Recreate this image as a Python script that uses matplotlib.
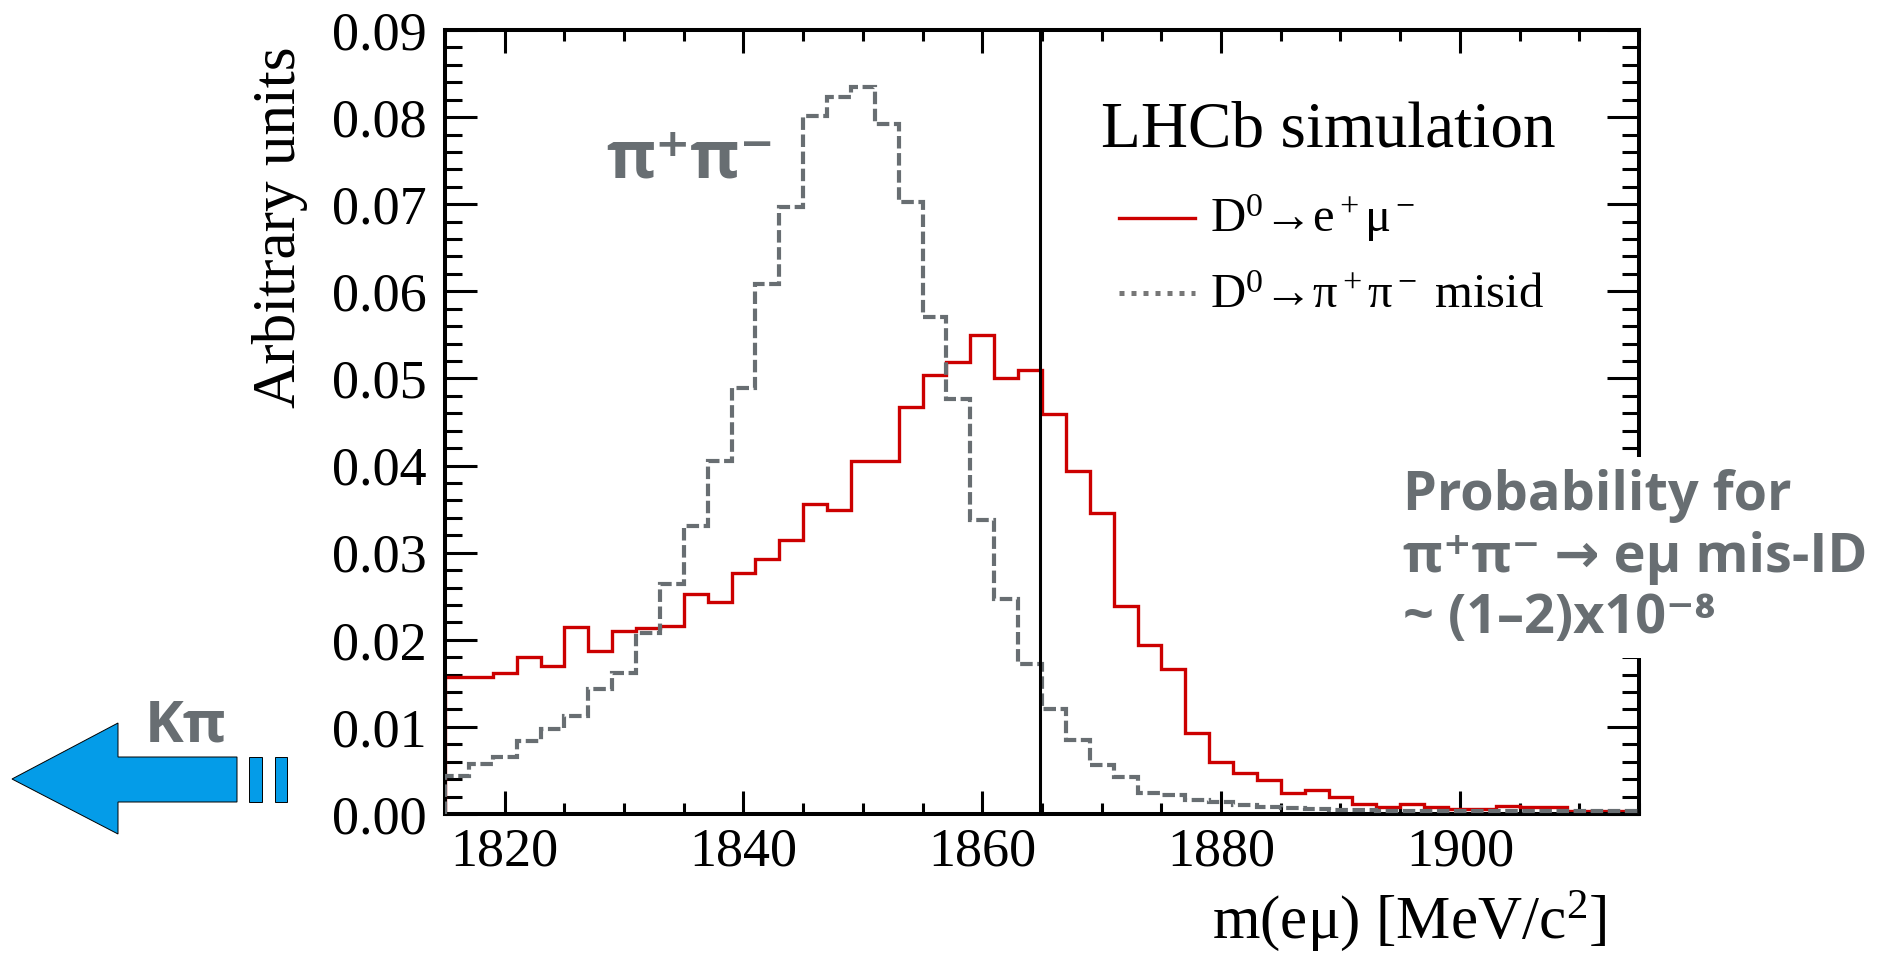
import numpy as np
import matplotlib
matplotlib.use("Agg")
import matplotlib.pyplot as plt
from matplotlib.patches import Polygon, Rectangle
from matplotlib.ticker import MultipleLocator, FormatStrFormatter

# --- figure geometry (pixels) ---
W, H, DPI = 1901, 956, 100

# --- histogram contents, 2 MeV bins from 1815 to 1915 MeV ---
M_LOW, M_HIGH, BIN_W = 1815, 1915, 2
edges = np.arange(M_LOW, M_HIGH + BIN_W, BIN_W)

# D0 -> e+ mu- signal shape
emu = [0.0157, 0.0157, 0.0162, 0.0180, 0.0170, 0.0215, 0.0187, 0.0210, 0.0214, 0.0216,
       0.0252, 0.0243, 0.0277, 0.0293, 0.0315, 0.0356, 0.0349, 0.0405, 0.0405, 0.0467,
       0.0504, 0.0519, 0.0550, 0.0500, 0.0510, 0.0459, 0.0394, 0.0346, 0.0239, 0.0194,
       0.0166, 0.0093, 0.0060, 0.0047, 0.0039, 0.0024, 0.0028, 0.0019, 0.0012, 0.0008,
       0.0011, 0.0008, 0.0006, 0.0006, 0.0009, 0.0008, 0.0008, 0.0004, 0.0003, 0.0003]

# D0 -> pi+ pi- misidentified as e mu
pipi = [0.0044, 0.0057, 0.0066, 0.0084, 0.0098, 0.0112, 0.0143, 0.0162, 0.0208, 0.0264,
        0.0331, 0.0405, 0.0489, 0.0608, 0.0697, 0.0801, 0.0823, 0.0834, 0.0792, 0.0702,
        0.0571, 0.0476, 0.0338, 0.0247, 0.0172, 0.0121, 0.0085, 0.0056, 0.0043, 0.0024,
        0.0022, 0.0016, 0.0014, 0.0010, 0.0008, 0.0007, 0.0006, 0.0005, 0.0005, 0.0004,
        0.0004, 0.0004, 0.0003, 0.0003, 0.0003, 0.0003, 0.0003, 0.0003, 0.0003, 0.0003]

D0_MASS = 1864.84

SERIF = ["Liberation Serif", "DejaVu Serif"]
SANS = ["Open Sans", "DejaVu Sans"]
RED = "#cc0000"
GREY = "#686e72"
BLUE = "#049ce8"

plt.rcParams["font.family"] = SERIF
plt.rcParams["mathtext.fontset"] = "stix"
plt.rcParams["mathtext.default"] = "regular"

fig = plt.figure(figsize=(W / DPI, H / DPI), dpi=DPI)
ax = fig.add_axes([445 / W, 1 - 814 / H, 1194 / W, 784 / H])

ax.stairs(emu, edges, color=RED, lw=2.4, zorder=2)
ax.stairs(pipi, edges, color=GREY, lw=3.0, linestyle=(0, (3.0, 1.1)), zorder=3)
ax.axvline(D0_MASS, color="black", lw=2.2, zorder=4)

ax.set_xlim(M_LOW, M_HIGH)
ax.set_ylim(0, 0.09)

ax.xaxis.set_major_locator(MultipleLocator(20))
ax.xaxis.set_minor_locator(MultipleLocator(5))
ax.yaxis.set_major_locator(MultipleLocator(0.01))
ax.yaxis.set_minor_locator(MultipleLocator(0.002))
ax.yaxis.set_major_formatter(FormatStrFormatter("%.2f"))

ax.tick_params(which="both", direction="in", top=True, right=True,
               width=2.2, labelsize=39, colors="black")
ax.tick_params(axis="x", which="major", length=16.5, pad=9)
ax.tick_params(axis="x", which="minor", length=8)
ax.tick_params(axis="y", which="major", length=23, pad=13)
ax.tick_params(axis="y", which="minor", length=12)
for sp in ax.spines.values():
    sp.set_linewidth(2.9)

# axis titles
fig.text(1607 / W, 1 - 938 / H, "m(eμ) [MeV/c$^2$]", ha="right", va="baseline",
         fontsize=44)
fig.text(280 / W, 1 - 46 / H, "Arbitrary units", rotation=90, ha="center", va="top",
         fontsize=44)

# legend block
ax.text(0.549, 0.851, "LHCb simulation", transform=ax.transAxes, fontsize=47,
        va="baseline")
ax.plot([0.5645, 0.628], [0.760, 0.760], transform=ax.transAxes, color=RED, lw=2.4)
ax.plot([0.5645, 0.628], [0.6645, 0.6645], transform=ax.transAxes, color="#777777",
        lw=3.6, linestyle=(0, (1.0, 1.4)))
ax.text(0.6407, 0.742, "D$^0$→e$^+$μ$^-$", transform=ax.transAxes, fontsize=35,
        va="baseline")
ax.text(0.6407, 0.6454, "D$^0$→π$^+$π$^-$ misid", transform=ax.transAxes, fontsize=35,
        va="baseline")

# pi pi label on the peak
ax.text(0.135, 0.8125, "π⁺π⁻", transform=ax.transAxes, fontsize=48,
        fontweight="bold", family=SANS, color=GREY, va="baseline")

# mis-ID note, on a white patch that interrupts the right frame
fig.add_artist(Rectangle((1395 / W, 1 - 658 / H), (W - 1395) / W, 201 / H,
                         transform=fig.transFigure, facecolor="white",
                         edgecolor="none", zorder=5))
note = ["Probability for",
        "π⁺π⁻ → eμ mis-ID",
        "~ (1–2)x10⁻⁸"]
for txt, base in zip(note, [510, 572, 633]):
    fig.text(1403 / W, 1 - base / H, txt, fontsize=39, fontweight="bold",
             family=SANS, color=GREY, va="baseline", zorder=6)

# K pi arrow off to the left
arrow = [(12, 779), (118, 723), (118, 757), (237, 757), (237, 802), (118, 802), (118, 834)]
fig.add_artist(Polygon([(x / W, 1 - y / H) for x, y in arrow], closed=True,
                       transform=fig.transFigure, facecolor=BLUE,
                       edgecolor="black", lw=0.7, zorder=5))
for x0, x1 in [(249, 262), (275, 287)]:
    fig.add_artist(Rectangle((x0 / W, 1 - 802 / H), (x1 - x0) / W, 45 / H,
                             transform=fig.transFigure, facecolor=BLUE,
                             edgecolor="black", lw=0.7, zorder=5))
fig.text(145 / W, 1 - 742 / H, "Kπ", fontsize=42, fontweight="bold", family=SANS,
         color=GREY, va="baseline")

fig.savefig("out.png", dpi=DPI)
